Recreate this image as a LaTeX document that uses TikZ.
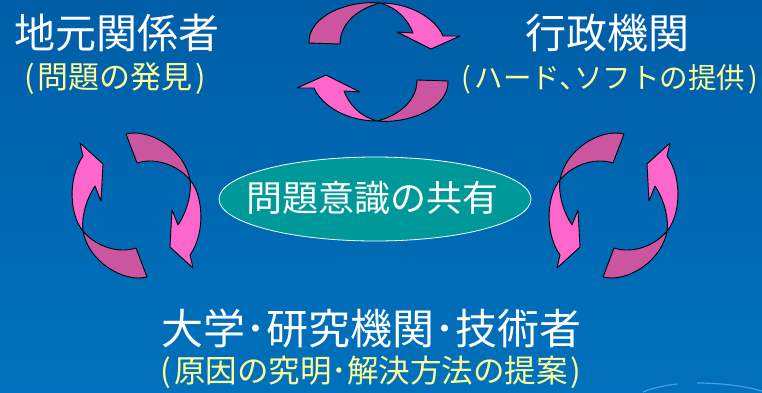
\documentclass[tikz,border=0pt]{standalone}
\usepackage{fontspec}
\usetikzlibrary{shapes.geometric}
\newfontfamily\jp{Noto Sans CJK JP}
\definecolor{bgtop}{RGB}{0,94,168}
\definecolor{bgbot}{RGB}{0,113,188}
\definecolor{pinklight}{RGB}{255,102,204}
\definecolor{pinkdark}{RGB}{204,85,160}
\definecolor{tealfill}{RGB}{0,153,153}
\definecolor{paleyellow}{RGB}{255,255,153}
\definecolor{arcblue}{RGB}{70,160,225}
\tikzset{
  darkpart/.style={fill=pinkdark,draw=black,line width=0.9pt,line join=round},
  lightpart/.style={fill=pinklight,draw=black,line width=0.9pt,line join=round},
  heading/.style={text=white,inner sep=0pt,font=\jp\fontsize{41}{41}\selectfont},
  subheading/.style={text=paleyellow,inner sep=0pt,font=\jp\fontsize{31}{31}\selectfont},
}
\newcommand\ArrTop{%
  \filldraw[darkpart] (309,43) .. controls (308,15) and (350,0) .. (380,3)
     .. controls (360,8) and (340,22) .. (340,44) -- cycle;
  \filldraw[lightpart] (380,3) .. controls (410,3) and (435,18) .. (443,36)
     -- (460,36) -- (431,49) -- (397,32) -- (413,33)
     .. controls (408,20) and (398,8) .. (380,3) -- cycle;
}
\newcommand\ArrSide{%
  \filldraw[darkpart] (126,134) .. controls (150,128) and (185,150) .. (190,180)
     .. controls (178,165) and (155,157) .. (137,163) -- cycle;
  \filldraw[lightpart] (190,180) .. controls (203,195) and (206,232) .. (190,255)
     -- (193,268) -- (170,247) -- (172,210) -- (178,225)
     .. controls (186,213) and (192,195) .. (190,180) -- cycle;
}
\newcommand\gp{\hspace{3pt}}
\begin{document}
\begin{tikzpicture}[x=1pt,y=-1pt]
  \useasboundingbox (0,0) rectangle (762,392);
  \shade[top color=bgtop,bottom color=bgbot] (0,0) rectangle (762,392);
  % decorative arc bottom right
  \draw[arcblue,line width=1.2pt] (643,392) .. controls (655,387) and (668,385) .. (677,384);
  \draw[arcblue,line width=1.2pt] (697,383) .. controls (725,383) and (748,387) .. (762,391);
  % top pair
  \ArrTop
  \begin{scope}[rotate around={180:(378.5,62)}]\ArrTop\end{scope}
  % left pair
  \ArrSide
  \begin{scope}[rotate around={180:(136.5,205.5)}]\ArrSide\end{scope}
  % right pair (mirror)
  \begin{scope}[shift={(750,0)},xscale=-1]
    \ArrSide
    \begin{scope}[rotate around={180:(136.5,205.5)}]\ArrSide\end{scope}
  \end{scope}
  % texts
  \node[heading] (local) at (116.5,32.5) {地元関係者};
  \node[subheading] (localsub) at (115,79) {(\gp 問題の発見\gp)};
  \node[heading] (gov) at (607.5,32.5) {行政機関};
  \node[subheading,font=\jp\fontsize{28.5}{28.5}\selectfont] (govsub) at (610,79) {(\gp ハード､ソフトの提供\gp)};
  \node[ellipse,draw=white,line width=0.8pt,fill=tealfill,minimum width=312,minimum height=84,inner sep=0pt] (share) at (375,199) {};
  \node[text=white,inner sep=0pt,font=\jp\fontsize{36}{36}\selectfont] (sharetext) at (372.5,198) {問題意識の共有};
  \node[heading,font=\jp\fontsize{42}{42}\selectfont] (univ) at (371,329) {大学･研究機関･技術者};
  \node[subheading,font=\jp\fontsize{31.5}{31.5}\selectfont] (univsub) at (371,372) {(\gp 原因の究明･解決方法の提案\gp)};
\end{tikzpicture}
\end{document}
